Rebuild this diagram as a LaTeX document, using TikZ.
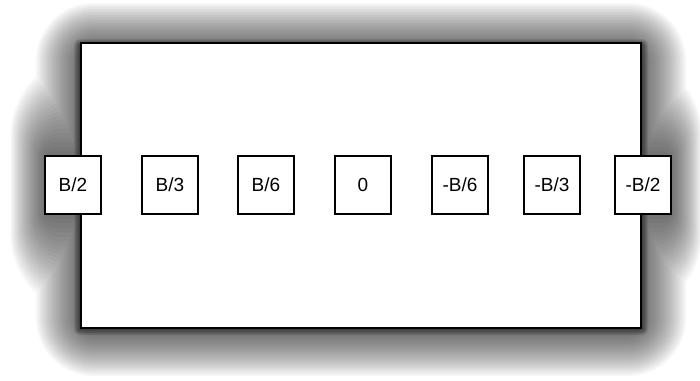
\documentclass[tikz,border=0pt]{standalone}
\usepackage{fontspec}
\setmainfont{Liberation Sans}
\begin{document}
\begin{tikzpicture}[x=1pt,y=-1pt,
  panel/.style={draw=black, line width=2pt, fill=white, inner sep=0pt,
    minimum width=560pt, minimum height=285pt},
  slot/.style={draw=black, line width=1.3pt, fill=white, inner sep=0pt,
    minimum width=56pt, minimum height=58pt,
    font=\fontsize{19}{22}\selectfont},
  glow/.style={fill=black, opacity=#1},
]
\useasboundingbox (0,0) rectangle (700,380);

% soft shadow around the panel and the row of slots (one union per layer)
\foreach \d in {44,42,...,2} {
  \fill[glow=0.034]
    [rounded corners=\d pt+14pt] (80-\d, 47-\d) rectangle (642+\d, 332+\d)
    [rounded corners=1.7*\d pt+6pt] (45-0.78*\d, 156-2.3*\d) rectangle (671+0.7*\d, 214+2.3*\d);
}
\foreach \d in {6,5,...,1} {
  \fill[glow=0.09, rounded corners=\d pt]
    (80-\d, 45-\d) rectangle (642+\d, 329+\d);
}

% main panel
\node[panel] (board) at (361,185) {};

% slots
\node[slot] (s1) at (73,185)  {B/2};
\node[slot] (s2) at (170,185) {B/3};
\node[slot] (s3) at (266,185) {B/6};
\node[slot] (s4) at (363,185) {0};
\node[slot] (s5) at (460,185) {-B/6};
\node[slot] (s6) at (552,185) {-B/3};
\node[slot] (s7) at (643,185) {-B/2};
\end{tikzpicture}
\end{document}
